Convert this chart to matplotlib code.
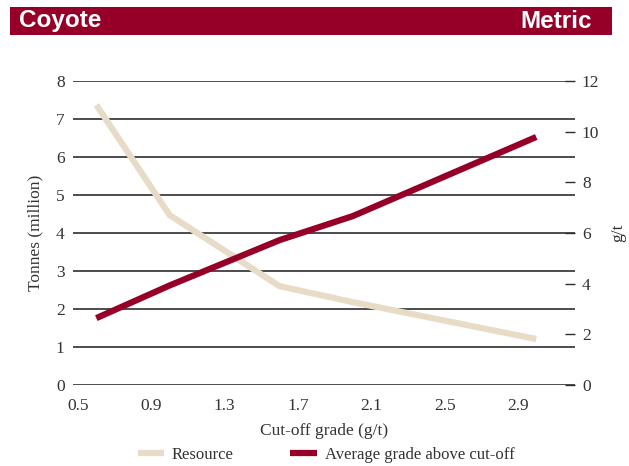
import matplotlib
matplotlib.use('agg')
import matplotlib.pyplot as plt
from matplotlib.lines import Line2D
from matplotlib.patches import Rectangle

# data
cutoff = [0.6, 1.0, 1.6, 2.0, 3.0]
resource = [7.37, 4.47, 2.60, 2.18, 1.21]     # tonnes (million), left axis
grade = [2.64, 3.93, 5.72, 6.67, 9.79]        # g/t, right axis
xticks = [0.5, 0.9, 1.3, 1.7, 2.1, 2.5, 2.9]
lticks = [0, 1, 2, 3, 4, 5, 6, 7, 8]
rticks = [0, 2, 4, 6, 8, 10, 12]

RED = '#960028'
TAN = '#e8dcc8'
GRID = '#2e2e2e'
TXT = '#333333'
SERIF = 'Liberation Serif'
FS = 12.5

fig = plt.figure(figsize=(6.29, 4.66), dpi=100)
ax = fig.add_axes([73 / 629, 1 - 385 / 466, 502 / 629, 304 / 466])
ax2 = ax.twinx()

# header banner
fig.patches.append(Rectangle((10 / 629, 1 - 35 / 466), 602 / 629, 28 / 466,
                             transform=fig.transFigure, facecolor=RED,
                             edgecolor='none'))
fig.text(19 / 629, 1 - 21 / 466, 'Coyote', color='white', fontsize=17.5,
         fontweight='bold', family='Liberation Sans', va='center')
fig.text(592 / 629, 1 - 21 / 466, 'Metric', color='white', fontsize=17.5,
         fontweight='bold', family='Liberation Sans', va='center', ha='right')

ax.set_ylim(0, 8)
ax.set_xlim(0.5 - 5 / 183.3, 0.5 + 497 / 183.3)
ax.set_yticks(lticks)
ax.set_xticks(xticks)
ax.set_xticklabels(['%.1f' % v for v in xticks])
ax.grid(axis='y', color=GRID, linewidth=1.2)
ax.set_axisbelow(True)
for s in ax.spines.values():
    s.set_visible(False)
for s in ax2.spines.values():
    s.set_visible(False)
ax.tick_params(axis='both', length=0, labelsize=FS, labelcolor=TXT)
ax.tick_params(axis='y', pad=6)
ax.tick_params(axis='x', pad=9)

ax2.set_ylim(0, 12)
ax2.set_yticks(rticks)
ax2.tick_params(axis='y', direction='in', length=7, width=1, color=GRID,
                labelsize=FS, labelcolor=TXT, pad=5)

ax.plot(cutoff, resource, color=TAN, linewidth=4.5, solid_capstyle='butt',
        solid_joinstyle='miter', zorder=3)
ax2.plot(cutoff, grade, color=RED, linewidth=4.5, solid_capstyle='butt',
         solid_joinstyle='miter', zorder=3)

for lab in ax.get_xticklabels() + ax.get_yticklabels() + ax2.get_yticklabels():
    lab.set_family(SERIF)

ax.set_ylabel('Tonnes (million)', family=SERIF, fontsize=FS, color=TXT,
              labelpad=9)
ax2.set_ylabel('g/t', family=SERIF, fontsize=FS, color=TXT, labelpad=8)
ax.set_xlabel('Cut-off grade (g/t)', family=SERIF, fontsize=FS, color=TXT,
              labelpad=7)

handles = [Line2D([], [], color=TAN, linewidth=4.5, solid_capstyle='butt'),
           Line2D([], [], color=RED, linewidth=4.5, solid_capstyle='butt')]
fig.legend(handles, ['Resource', 'Average grade above cut-off'], ncol=2,
           loc='center', bbox_to_anchor=(326 / 629, 1 - 455 / 466),
           frameon=False, handlelength=1.6, handletextpad=0.45,
           columnspacing=3.4, prop={'family': SERIF, 'size': 12},
           labelcolor=TXT)

fig.savefig('out.png', dpi=100)
